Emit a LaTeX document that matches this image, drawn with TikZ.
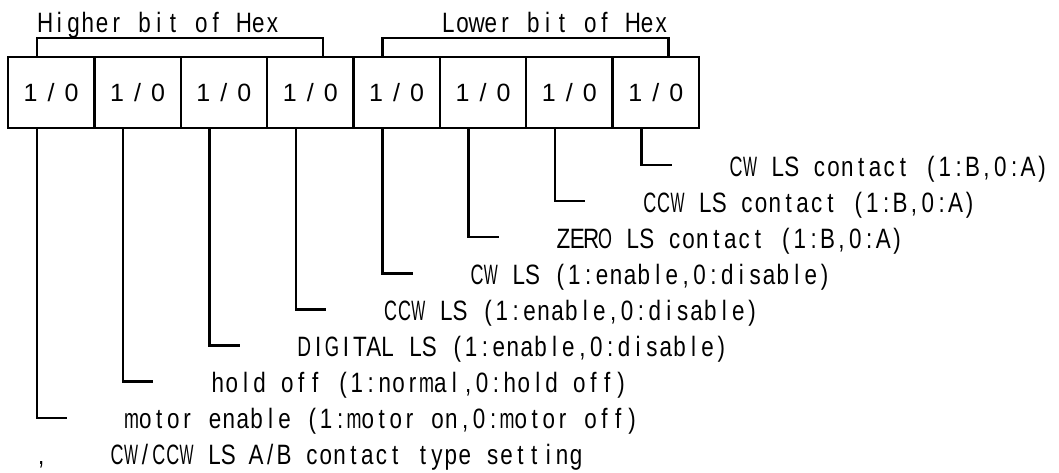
\documentclass[tikz,border=0pt]{standalone}
\usepackage{fontspec}
\usepackage{graphicx}
\newfontfamily\lblfont[FakeStretch=0.8]{Liberation Sans}
\newfontfamily\cellfont{Liberation Sans}
\newlength\gridw
\def\gw#1{\gwi#1\relax}
\def\gwi#1{\ifx\relax#1\else\gch{#1}\expandafter\gwi\fi}
\def\gsq#1#2{\scalebox{#1}[1]{#2}}
\def\gch#1{\makebox[\gridw][c]{%
  \ifx W#1\gsq{0.66}{#1}\else
  \ifx C#1\gsq{0.8}{#1}\else
  \ifx O#1\gsq{0.8}{#1}\else
  \ifx D#1\gsq{0.85}{#1}\else
  \ifx G#1\gsq{0.82}{#1}\else
  \ifx m#1\gsq{0.8}{#1}\else
  #1\fi\fi\fi\fi\fi\fi}}
\def\gs{\hspace*{\gridw}}
\begin{document}
\begin{tikzpicture}[x=1pt,y=-1pt,
  lbl/.style={anchor=base west,inner sep=0pt,font={\lblfont\fontsize{28}{34}\selectfont\setlength\gridw{13.907pt}}},
  ttl/.style={anchor=base west,inner sep=0pt,font={\lblfont\fontsize{28}{34}\selectfont\setlength\gridw{14.2pt}}},
  cell/.style={draw,line width=2.4pt,minimum width=86.375pt,minimum height=71pt,inner sep=0pt,font={\cellfont\fontsize{25}{30}\selectfont\setlength\gridw{20.5pt}}},
  wire/.style={line width=2.4pt}]
\useasboundingbox (0,0) rectangle (1059,472);
% cells
\foreach \i in {1,...,8}
  \node[cell] (c\i) at ({8+86.375*(\i-0.5)},92.5) {\gw{1/0}};
% titles and brackets
\node[ttl] (t1) at (38,32) {\gw{Higher}\gs\gw{bit}\gs\gw{of}\gs\gw{Hex}};
\node[ttl] (t2) at (441,32) {\gw{Lower}\gs\gw{bit}\gs\gw{of}\gs\gw{Hex}};
\draw[wire] ([xshift=30pt]c1.north west) -- ++(0,-18) -| ([xshift=57pt]c4.north west);
\draw[wire] ([xshift=30pt]c5.north west) -- ++(0,-18) -| ([xshift=57pt]c8.north west);
% leader ends
\coordinate (e8) at (671.6,165);
\coordinate (e7) at (585.25,201.1);
\coordinate (e6) at (498.9,237.2);
\coordinate (e5) at (412.5,273.3);
\coordinate (e4) at (326.1,309.4);
\coordinate (e3) at (239.75,345.5);
\coordinate (e2) at (153.4,381.6);
\coordinate (e1) at (67,417.7);
% labels
\node[lbl] (l8) at (729,176) {\gw{CW}\gs\gw{LS}\gs\gw{contact}\gs\gw{(1:B,0:A)}};
\node[lbl] (l7) at (642.6,212.1) {\gw{CCW}\gs\gw{LS}\gs\gw{contact}\gs\gw{(1:B,0:A)}};
\node[lbl] (l6) at (556.25,248.2) {\gw{ZERO}\gs\gw{LS}\gs\gw{contact}\gs\gw{(1:B,0:A)}};
\node[lbl] (l5) at (469.9,284.3) {\gw{CW}\gs\gw{LS}\gs\gw{(1:enable,0:disable)}};
\node[lbl] (l4) at (383.5,320.4) {\gw{CCW}\gs\gw{LS}\gs\gw{(1:enable,0:disable)}};
\node[lbl] (l3) at (297.1,356.5) {\gw{DIGITAL}\gs\gw{LS}\gs\gw{(1:enable,0:disable)}};
\node[lbl] (l2) at (210.75,392.6) {\gw{hold}\gs\gw{off}\gs\gw{(1:normal,0:hold}\gs\gw{off)}};
\node[lbl] (l1) at (124.4,428.7) {\gw{motor}\gs\gw{enable}\gs\gw{(1:motor}\gs\gw{on,0:motor}\gs\gw{off)}};
\node[lbl] (l0c) at (38,464.8) {,};
\node[lbl] (l0) at (110,464.8) {\gw{CW/CCW}\gs\gw{LS}\gs\gw{A/B}\gs\gw{contact}\gs\gw{type}\gs\gw{setting}};
% leaders
\foreach \i in {1,...,8}
  \draw[wire] ([xshift=30pt]c\i.south west) |- (e\i);
\end{tikzpicture}
\end{document}
